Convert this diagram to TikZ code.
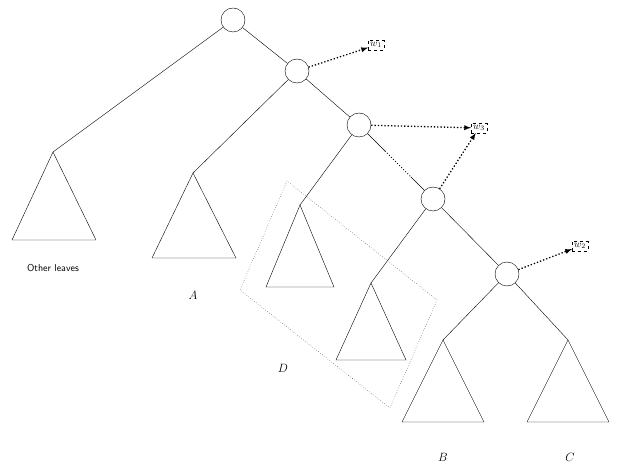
\documentclass[tikz,border=0pt]{standalone}
\usetikzlibrary{positioning,calc}
\begin{document}
\begin{tikzpicture}
[
x=1pt, y=-1pt,
knot/.style={circle, draw, minimum size = 24pt, inner sep=0pt},
leaf/.style={draw},
weight/.style={draw, dashed, inner sep=2pt},
hint/.style={dotted, line width=1.3pt, -latex},
text-a/.style={font=\large}
]
\useasboundingbox (0,0) rectangle (618,470);

\node (n-1) [knot] at (233,20)  {};
\node (n-2) [knot] at (297,71)  {};
\node (n-3) [knot] at (359,125) {};
\node (n-4) [knot] at (433,199) {};
\node (n-5) [knot] at (507,274) {};

\coordinate (t-o) at (53,152);
\coordinate (t-a) at (193,173);
\coordinate (t-d1) at (300,205);
\coordinate (t-d2) at (371,283);
\coordinate (t-b) at (443,340);
\coordinate (t-c) at (568,340);

\draw [leaf] (t-o)  -- ++(-41,88)  -- ++(84,0) -- cycle;
\draw [leaf] (t-a)  -- ++(-41,85)  -- ++(84,0) -- cycle;
\draw [leaf] (t-d1) -- ++(-34,82)  -- ++(68,0) -- cycle;
\draw [leaf] (t-d2) -- ++(-35,77)  -- ++(70,0) -- cycle;
\draw [leaf] (t-b)  -- ++(-41,82)  -- ++(82,0) -- cycle;
\draw [leaf] (t-c)  -- ++(-41,82)  -- ++(82,0) -- cycle;

\draw (n-1) -- (t-o);
\draw (n-1) -- (n-2);
\draw (n-2) -- (t-a);
\draw (n-2) -- (n-3);
\draw (n-3) -- (t-d1);
\draw (n-3) -- ($(n-3)!0.35!(n-4)$);
\draw [dotted, line width=0.9pt] ($(n-3)!0.35!(n-4)$) -- ($(n-3)!0.7!(n-4)$);
\draw ($(n-3)!0.7!(n-4)$) -- (n-4);
\draw (n-4) -- (t-d2);
\draw (n-4) -- (n-5);
\draw (n-5) -- (t-b);
\draw (n-5) -- (t-c);

\node (w-1) [weight] at (376,45)  {$w_1$};
\node (w-3) [weight] at (479,128) {$w_3$};
\node (w-2) [weight] at (580,246) {$w_2$};

\draw [hint] (n-2) -- (w-1);
\draw [hint] (n-3) -- (w-3);
\draw [hint] (n-4) -- (w-3);
\draw [hint] (n-5) -- (w-2);

\draw [dotted] (287,181) -- (240,290) -- (390,408) -- (437,300) -- cycle;

\node (lb-o) [font=\sffamily] at (53,268) {Other leaves};
\node (lb-a) [text-a] at (193,295) {$A$};
\node (lb-d) [text-a] at (283,368) {$D$};
\node (lb-b) [text-a] at (443,457) {$B$};
\node (lb-c) [text-a] at (570,457) {$C$};
\end{tikzpicture}
\end{document}
